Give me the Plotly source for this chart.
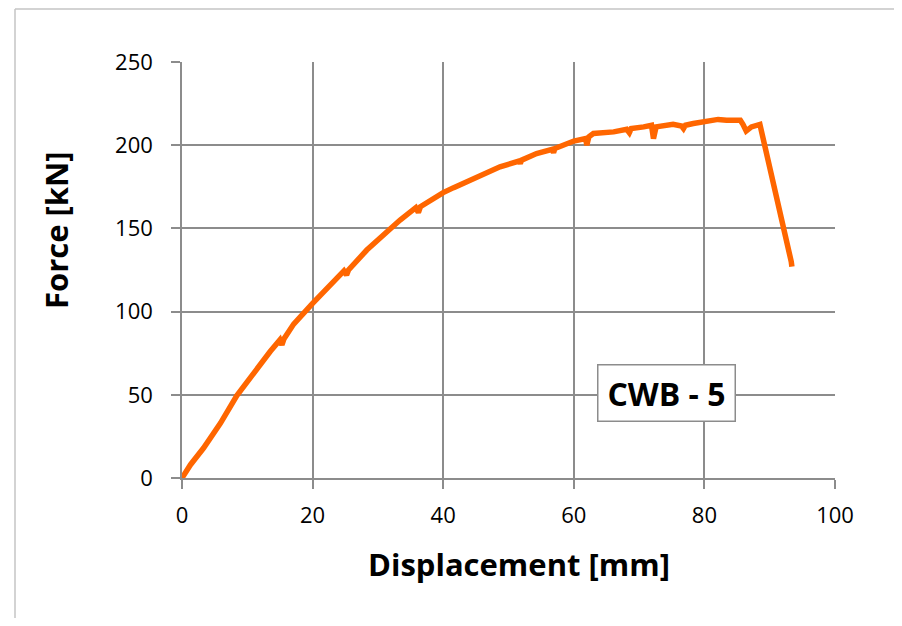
import plotly.graph_objects as go

displacement_mm = [0, 1.3, 3.3, 5.9, 8.4, 10.5, 13.5, 15.0, 15.3, 15.6, 17.1, 20, 21.7,
                   24.8, 25.2, 25.5, 28.3, 31.9, 33.4, 35.8, 36.2, 36.5, 38.5, 40, 41.6, 44.1,
                   46.7, 48.7, 51.6, 51.8, 52.0, 54.3, 56.7, 56.9, 57.1, 60, 61.8, 62.0, 62.3,
                   63, 66.1, 68.1, 68.5, 68.8, 70.7, 71.9, 72.2, 72.6, 75.2, 76.5, 76.8, 77.1,
                   78.3, 80, 82.1, 83.4, 85.5, 85.9, 86.4, 87.2, 88.5, 93.3, 93.4]
force_kN = [0, 8, 18, 33, 49.5, 61, 76, 83, 80, 83.5, 92.5, 105, 111.5,
            124.5, 122, 125, 137, 150, 155, 162.5, 159.5, 163, 168, 171.5, 174.5, 179,
            183, 187, 190.5, 189, 191, 195, 197.5, 195.5, 198, 202.5, 204, 200, 205,
            207, 208, 209.5, 207.5, 210, 211, 212, 204, 211, 212.6, 211.5, 210, 212,
            213, 214.4, 215.5, 215, 215, 212.5, 208.5, 211, 212.5, 130, 127]

x_ticks = [0, 20, 40, 60, 80, 100]
y_ticks = [0, 50, 100, 150, 200, 250]
label = "CWB - 5"
x_title = "Displacement [mm]"
y_title = "Force [kN]"

GRID = "#8c8c8c"
FONT = "Open Sans"

# page body has an 8px margin; figure spans absolute pixels 8..894 x 8..618
L, R, T, B = 174, 59, 54, 140
W, H = 886, 610
PW, PH = W - L - R, H - T - B


def px(ax):  # absolute page x -> paper
    return (ax - 8 - L) / PW


def py(ay):  # absolute page y -> paper
    return (H - B - (ay - 8)) / PH


fig = go.Figure()
fig.add_trace(go.Scatter(x=displacement_mm, y=force_kN, mode="lines",
                         line=dict(color="#FF6600", width=5.5), showlegend=False))

axis_common = dict(showgrid=True, gridcolor=GRID, gridwidth=1.5, zeroline=False,
                   showline=True, linecolor=GRID, linewidth=1.5,
                   ticks="outside", ticklen=9, tickwidth=1.5, tickcolor=GRID,
                   tickfont=dict(family=FONT, size=22, color="black"))

fig.update_xaxes(range=[0, 100], tickvals=x_ticks, ticktext=[str(v) for v in x_ticks],
                 ticklabelstandoff=8, **axis_common)
fig.update_yaxes(range=[0, 250], tickvals=y_ticks, ticktext=[str(v) for v in y_ticks],
                 ticklabelstandoff=14, **axis_common)

fig.add_annotation(text=x_title, xref="paper", yref="paper", x=px(519), y=py(564),
                   xanchor="center", yanchor="middle", showarrow=False,
                   font=dict(family=FONT, size=31, color="black", weight="bold"))
fig.add_annotation(text=y_title, xref="paper", yref="paper", x=px(56), y=py(230),
                   xanchor="center", yanchor="middle", showarrow=False, textangle=-90,
                   font=dict(family=FONT, size=31, color="black", weight="bold"))
fig.add_annotation(text=label, xref="paper", yref="paper", x=px(666.5), y=py(393),
                   xanchor="center", yanchor="middle", showarrow=False, width=124,
                   bgcolor="white", bordercolor=GRID, borderwidth=1.5, borderpad=6,
                   font=dict(family=FONT, size=32, color="black", weight="bold"))

# outer chart border (only top and left edges are visible in the frame)
border = dict(color="#c4c4c4", width=1.5)
fig.add_shape(type="line", xref="paper", yref="paper", x0=px(15), y0=py(9),
              x1=px(960), y1=py(9), line=border, layer="below")
fig.add_shape(type="line", xref="paper", yref="paper", x0=px(15), y0=py(9),
              x1=px(15), y1=py(700), line=border, layer="below")

fig.update_layout(width=W, height=H, autosize=False,
                  margin=dict(l=L, r=R, t=T, b=B),
                  plot_bgcolor="white", paper_bgcolor="rgba(0,0,0,0)",
                  font=dict(family=FONT))

fig.write_html("out.html")
